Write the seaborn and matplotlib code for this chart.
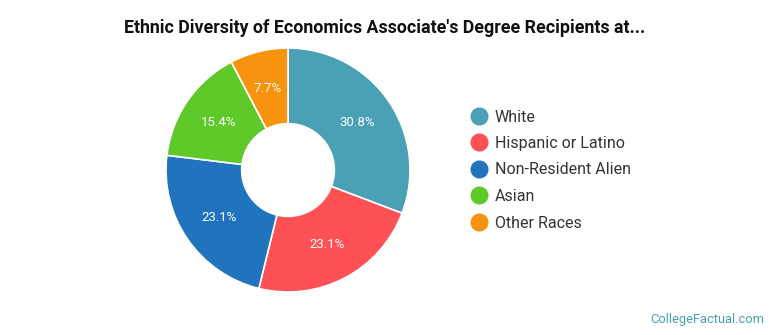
import matplotlib
matplotlib.use("Agg")
import matplotlib.pyplot as plt
from matplotlib.lines import Line2D
import seaborn as sns

categories = ["White", "Hispanic or Latino", "Non-Resident Alien", "Asian", "Other Races"]
shares = [30.8, 23.1, 23.1, 15.4, 7.7]
colors = ["#4aa0b5", "#fd5155", "#1f74bd", "#5fc92a", "#f8930f"]
title = "Ethnic Diversity of Economics Associate's Degree Recipients at..."
credit = "CollegeFactual.com"

sns.set_theme(style="white")
plt.rcParams["font.family"] = ["Roboto", "DejaVu Sans"]

fig = plt.figure(figsize=(7.7, 3.35), dpi=100)
ax = fig.add_axes([(288 - 122) / 770, (335 - 292) / 335, 244 / 770, 244 / 335])

wedges, texts, autotexts = ax.pie(
    shares, colors=colors, startangle=90, counterclock=False,
    autopct="%.1f%%", pctdistance=0.69, radius=1.0,
    wedgeprops=dict(width=0.62, edgecolor="white", linewidth=1.2),
    textprops=dict(color="white", fontsize=9.5),
)
ax.set_aspect("equal")
ax.set_xlim(-1.0, 1.0)
ax.set_ylim(-1.0, 1.0)
ax.axis("off")

fig.text(0.5, 1 - 28 / 335, title, ha="center", va="center",
         fontsize=12.8, fontweight="bold", color="#111111")

handles = [Line2D([0], [0], marker="o", linestyle="", markersize=12,
                  markerfacecolor=c, markeredgecolor=c) for c in colors]
fig.legend(handles, categories, loc="center left",
           bbox_to_anchor=(455 / 770, 1 - 170 / 335), frameon=False,
           fontsize=11.5, labelspacing=0.72, handletextpad=0.4,
           handlelength=1.2, labelcolor="#333333")

fig.text(1 - 6 / 770, 1 - 320 / 335, credit, ha="right", va="center",
         fontsize=9.3, color="#4a9fb5")

fig.savefig("out.png", dpi=100)
